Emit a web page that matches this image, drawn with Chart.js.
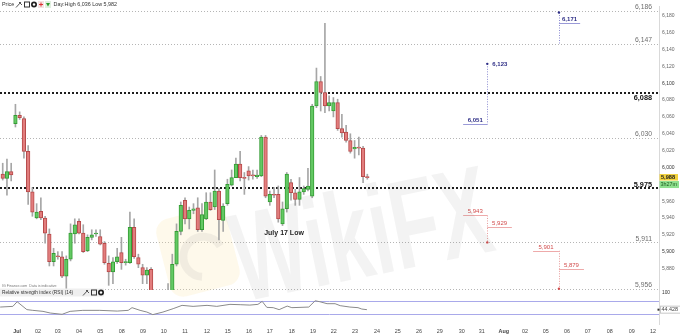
<!DOCTYPE html>
<html><head><meta charset="utf-8">
<script src="https://cdn.jsdelivr.net/npm/chart.js@4.4.1/dist/chart.umd.min.js"></script>
<style>html,body{margin:0;padding:0;background:#fff;overflow:hidden}canvas{display:block}</style>
</head><body>
<canvas id="c" width="680" height="336"></canvas>
<script>
// ---- data ----
const dayLabels = ['Jul','02','03','04','05','08','09','10','11','12','15','16','17','18','19','22','23','24','25','26','29','30','31','Aug','02','05','06','07','08','09','12'];
const dayTickAt = [3.4,8.3,13.0,18.0,23.0,28.1,33.1,38.0,43.0,48.2,53.1,58.1,63.0,68.2,73.2,78.1,83.1,88.3,93.2,98.2,103.1,108.3,113.0,118.2,123.2,128.1,133.1,138.0,143.2,148.4,153.4];
const opens  = [5992,5987,5995,6052,6062,6058,6019,5971,5940,5948,5940,5921,5888,5895,5894,5871,5891,5921,5936,5922,5901,5917,5921,5918,5910,5886,5876,5888,5899,5887,5887,5929,5893,5881,5872,5879,5845,5836,5842,5846,5848,5885,5924,5961,5939,5949,5952,5926,5939,5959,5953,5972,5937,5957,5979,5988,6004,5988,5996,5991,5989,5990,6036,5959,5968,5968,5933,5951,5982,5970,5962,5971,5974,5966,6073,6102,6089,6073,6067,6077,6046,6042,6032,6022,6024,6023,5989];
const highs  = [6005,6010,6005,6075,6066,6060,6026,5976,5957,5964,5942,5927,5904,5900,5900,5895,5933,5939,5939,5932,5920,5926,5926,5926,5912,5895,5893,5904,5917,5891,5947,5939,5897,5885,5881,5881,5851,5848,5850,5862,5897,5933,5959,5964,5953,5957,5964,5957,5970,5970,5997,5975,5957,5986,5997,6011,6019,5994,6001,5997,5997,6038,6038,5972,5976,5978,5959,5994,5986,5974,5988,5978,5999,6075,6118,6108,6171,6085,6083,6081,6063,6050,6040,6032,6036,6025,5992];
const lows   = [5985,5967,5984,6048,6057,6011,5956,5942,5939,5938,5910,5883,5883,5891,5869,5856,5889,5910,5921,5899,5900,5914,5918,5908,5885,5860,5862,5886,5879,5884,5886,5892,5881,5862,5862,5838,5830,5826,5832,5838,5840,5883,5920,5933,5927,5945,5924,5924,5938,5949,5950,5914,5924,5955,5978,5988,5984,5968,5985,5986,5987,5989,5964,5955,5964,5935,5931,5947,5961,5955,5955,5968,5972,5964,6071,6067,6065,6067,6060,6044,6036,6030,6017,6011,6015,5982,5986];
const closes = [5987,5995,5991,6062,6059,6019,5971,5947,5947,5940,5922,5888,5898,5894,5871,5891,5922,5932,5922,5900,5917,5920,5922,5909,5887,5876,5888,5894,5887,5888,5929,5894,5885,5872,5878,5845,5836,5842,5846,5850,5885,5924,5955,5939,5949,5951,5926,5944,5959,5950,5972,5938,5954,5980,5988,6004,5988,5987,5990,5990,5991,6036,5966,5968,5967,5939,5951,5992,5970,5962,5971,5975,5978,6073,6102,6089,6073,6077,6077,6046,6041,6032,6019,6024,6023,5989,5988];
const rsiAt    = [-0.6,2.4,3.4,5.7,7.1,9.5,11.2,14.0,15.9,18.9,22.9,27.0,29.6,30.5,32.4,34.0,35.4,37.8,40.2,42.3,44.9,48.2,50.5,53.6,56.0,58.3,60.2,61.2,62.3,63.8,65.2,67.1,68.2,72.2,73.7,74.8,76.5,78.4,79.6,81.9,83.8,84.7,85.9];
const rsiValue = [52.5,54.6,69,44.5,42.3,39.2,34,30,39.2,42.3,42.3,40,42.3,50.6,42.3,37,29,37,47.5,57.7,54.6,57.7,54.6,60.8,59.8,58.6,60.8,70,51.5,50.6,44.5,55.5,50.6,52.5,72,69,62.9,62.9,56.8,52.5,50.6,46.3,44.4];
const rsiLast = '44.428';
const rsiBands = [70, 30];
const priceTicks = [6180,6160,6140,6120,6100,6080,6060,6040,6020,6000,5960,5940,5920,5900,5880];
const levelValues = [6186,6147,6088,6035,5975,5911,5856];
const levelLabels = ['6,186','6,147','6,088','6,030','5,975','5,911','5,956'];
const lastPrice = 5988, lastPriceLabel = '5,988', candleTimer = '3h27m';
const dayHigh = '6,036', dayLow = '5,982';
// projection targets (candle index / price)
const targetValue = [6051,6171,5943,5929,5901,5879];
const targetLabel = ['6,051','6,171','5,943','5,929','5,901','5,879'];
const targetFrom  = [108.6,131.2,108.6,114.3,125.1,131.2];
const targetTo    = [114.3,136.2,114.3,120.1,131.2,137.1];
const targetUp    = [true,true,false,false,false,false];
const stemAt     = [114.3,131.2,114.3,131.2];
const stemTop    = [6123,6184,5943,5901];
const stemBottom = [6051,6147,5911,5856];
const stemUp     = [true,true,false,false];
const dotAt = [114.3,131.2,114.3,131.2];
const dotValue = [6123,6184,5911,5856];
const dotLabel = ['6,123','','',''];
const lowNote = {at: 66, value: 5922, text: 'July 17 Low'};

// ---- chart ----
const FF = '"Liberation Sans", Arial, sans-serif';
const idx = opens.map((_, i) => i);
const up = idx.map(i => closes[i] >= opens[i]);
const clipPrice = {left: 0, top: 0, right: 0, bottom: -34};
const STRONG = new Set([6088, 5975]);
const fmt = v => Math.round(v).toLocaleString('en-US');

function drawIcons(ctx, x, y) {
  ctx.save();
  ctx.strokeStyle = '#555'; ctx.lineWidth = 1;
  ctx.beginPath(); ctx.moveTo(x, y + 3); ctx.lineTo(x + 5, y - 2.5); ctx.stroke();
  ctx.beginPath(); ctx.moveTo(x + 3, y - 2.5); ctx.lineTo(x + 6, y + 0.5); ctx.stroke();
  ctx.strokeStyle = '#333';
  ctx.strokeRect(x + 8.5, y - 2.5, 5, 5);
  ctx.fillStyle = '#222'; ctx.beginPath(); ctx.arc(x + 18, y, 3, 0, Math.PI * 2); ctx.fill();
  ctx.fillStyle = '#fff'; ctx.beginPath(); ctx.arc(x + 18, y, 1.2, 0, Math.PI * 2); ctx.fill();
  ctx.restore();
}

const overlay = {
  id: 'overlay',
  beforeDatasetsDraw(chart) {
    const {ctx, chartArea: a, scales: {y, yr}} = chart;
    ctx.save();
    levelValues.forEach(v => {
      const strong = STRONG.has(v);
      const py = strong ? Math.round(y.getPixelForValue(v)) : Math.round(y.getPixelForValue(v)) + 0.5;
      ctx.beginPath();
      ctx.setLineDash(strong ? [2, 2] : [1, 2]);
      ctx.lineWidth = strong ? 2 : 1;
      ctx.strokeStyle = strong ? '#1e1e1e' : '#b5b5b5';
      ctx.moveTo(a.left, py); ctx.lineTo(a.right, py); ctx.stroke();
    });
    ctx.setLineDash([]);
    ctx.lineWidth = 1;
    ctx.strokeStyle = '#a9a9ea';
    rsiBands.forEach(b => {
      const py = Math.round(yr.getPixelForValue(b)) + 0.5;
      ctx.beginPath(); ctx.moveTo(a.left, py); ctx.lineTo(a.right, py); ctx.stroke();
    });
    // watermark logo (behind)
    ctx.save();
    ctx.translate(198, 252); ctx.rotate(-0.25);
    ctx.fillStyle = 'rgba(250,228,165,0.22)';
    ctx.beginPath(); ctx.roundRect(-36, -40, 72, 80, 14); ctx.fill();
    ctx.strokeStyle = 'rgba(150,150,150,0.12)'; ctx.lineWidth = 8;
    ctx.beginPath(); ctx.arc(4, 6, 20, Math.PI * 0.6, Math.PI * 1.9); ctx.stroke();
    ctx.restore();
    ctx.restore();
  },
  afterDatasetsDraw(chart) {
    const {ctx, chartArea: a, scales: {x, y, yr}} = chart;
    ctx.save();
    // level labels
    ctx.textAlign = 'right';
    levelValues.forEach((v, i) => {
      const strong = STRONG.has(v);
      const py = y.getPixelForValue(v);
      ctx.font = (strong ? 'bold 7.3px ' : '6.8px ') + FF;
      ctx.fillStyle = strong ? '#111' : '#6e6e6e';
      let base = py - 1.5;
      if (v === 6088) base = py + 6.5;
      if (base < 7) base = 7;
      ctx.fillText(levelLabels[i], a.right - 7, base);
    });
    // projection stems
    ctx.lineWidth = 1;
    stemAt.forEach((s, i) => {
      const px = Math.round(x.getPixelForValue(s)) + 0.5;
      ctx.strokeStyle = stemUp[i] ? '#8c8cd2' : '#e79a9a';
      ctx.setLineDash([1, 1.5]);
      ctx.beginPath();
      ctx.moveTo(px, y.getPixelForValue(stemTop[i]));
      ctx.lineTo(px, y.getPixelForValue(stemBottom[i]));
      ctx.stroke();
    });
    ctx.setLineDash([]);
    targetValue.forEach((v, i) => {
      const py = Math.round(y.getPixelForValue(v)) + 0.5;
      const x1 = x.getPixelForValue(targetFrom[i]), x2 = x.getPixelForValue(targetTo[i]);
      ctx.strokeStyle = targetUp[i] ? '#9a9ad8' : '#eeaaaa';
      ctx.beginPath(); ctx.moveTo(x1, py); ctx.lineTo(x2, py); ctx.stroke();
      ctx.font = (targetUp[i] ? 'bold 6px ' : '6px ') + FF;
      ctx.fillStyle = targetUp[i] ? '#2e2e86' : '#d14b4b';
      ctx.textAlign = 'center';
      ctx.fillText(targetLabel[i], (x1 + x2) / 2, py - 2.5);
    });
    dotAt.forEach((d, i) => {
      const px = x.getPixelForValue(d), py = y.getPixelForValue(dotValue[i]);
      const isUp = dotValue[i] > 6000;
      ctx.fillStyle = isUp ? '#2e2e86' : '#d14b4b';
      ctx.beginPath(); ctx.arc(px, py, 1.2, 0, Math.PI * 2); ctx.fill();
      if (dotLabel[i]) {
        ctx.font = 'bold 6px ' + FF; ctx.textAlign = 'left'; ctx.textBaseline = 'middle';
        ctx.fillText(dotLabel[i], px + 5, py);
        ctx.textBaseline = 'alphabetic';
      }
    });
    // July 17 low
    ctx.font = 'bold 7px ' + FF; ctx.fillStyle = '#222'; ctx.textAlign = 'center';
    ctx.fillText(lowNote.text, x.getPixelForValue(lowNote.at) + 1.5, y.getPixelForValue(lowNote.value) + 2);
    // header
    ctx.textAlign = 'left'; ctx.textBaseline = 'middle';
    ctx.font = '5.4px ' + FF; ctx.fillStyle = '#333';
    ctx.fillText('Price', 2, 4.5);
    drawIcons(ctx, 16, 4.5);
    ctx.fillStyle = '#f3e3e3'; ctx.fillRect(38, 1, 6, 7);
    ctx.strokeStyle = '#d33'; ctx.beginPath(); ctx.moveTo(39, 4.5); ctx.lineTo(43, 4.5); ctx.moveTo(41, 2.5); ctx.lineTo(41, 6.5); ctx.stroke();
    ctx.fillStyle = '#e0f0e0'; ctx.fillRect(45, 1, 6, 7);
    ctx.fillStyle = '#2a9a2a'; ctx.beginPath(); ctx.moveTo(46, 3); ctx.lineTo(50, 3); ctx.lineTo(48, 6.5); ctx.fill();
    ctx.fillStyle = '#333'; ctx.font = '5.4px ' + FF;
    ctx.fillText('Day:High ' + dayHigh + ' Low ' + dayLow, 53.5, 4.5);
    // data source note
    ctx.font = '3.6px ' + FF; ctx.fillStyle = '#777';
    ctx.fillText('IG Finance.com  Data is indicative', 2, 285.5);
    // RSI header
    ctx.fillStyle = '#efefef'; ctx.fillRect(0, 288.5, 104, 8);
    ctx.fillStyle = '#333'; ctx.font = '4.8px ' + FF;
    ctx.fillText('Relative strength index (RSI) (14)', 2, 292.5);
    drawIcons(ctx, 83, 292.5);
    // right side boxes
    const lp = y.getPixelForValue(lastPrice);
    ctx.fillStyle = '#f2d23c'; ctx.fillRect(a.right + 0.5, lp - 3.5, 18.5, 6.5);
    ctx.fillStyle = '#222'; ctx.font = 'bold 5.6px ' + FF;
    ctx.fillText(lastPriceLabel, a.right + 2, lp);
    ctx.fillStyle = '#8ee08e'; ctx.fillRect(a.right + 0.5, lp + 3.5, 19.5, 7);
    ctx.fillStyle = '#1e5a1e'; ctx.font = '5.4px ' + FF;
    ctx.fillText(candleTimer, a.right + 1.5, lp + 7);
    ctx.fillStyle = '#333'; ctx.font = '4.8px ' + FF;
    ctx.fillText('100', a.right + 3, yr.getPixelForValue(100) + 0.5);
    const rp = yr.getPixelForValue(rsiValue[rsiValue.length - 1]);
    ctx.fillStyle = '#fff'; ctx.fillRect(a.right + 1, rp - 3.5, 20, 7);
    ctx.strokeStyle = '#c8c8c8'; ctx.strokeRect(a.right + 1.5, rp - 3.5, 20, 7);
    ctx.fillStyle = '#333'; ctx.fillRect(a.right - 1.5, rp - 1, 2, 2);
    ctx.font = '5.4px ' + FF; ctx.fillStyle = '#444';
    ctx.fillText(rsiLast, a.right + 2.5, rp);
    ctx.restore();
  },
  afterDraw(chart) {
    const {ctx} = chart;
    ctx.save();
    ctx.translate(242, 302);
    ctx.rotate(-0.2);
    ctx.scale(0.56, 0.9);
    ctx.font = 'bold 140px ' + FF;
    ctx.fillStyle = 'rgba(120,120,120,0.085)';
    ctx.fillText('WikiFX', 0, 0);
    ctx.restore();
  }
};

new Chart(document.getElementById('c'), {
  type: 'bar',
  data: {
    datasets: [
      {
        label: 'body',
        data: idx.map(i => ({x: i, y: [opens[i], closes[i]]})),
        backgroundColor: idx.map(i => up[i] ? '#63c963' : '#e27d7d'),
        borderColor: idx.map(i => up[i] ? '#349c34' : '#b64a4a'),
        borderWidth: 1, borderSkipped: false, barThickness: 3.6, grouped: false,
        minBarLength: 1, yAxisID: 'y', clip: clipPrice, order: 1
      },
      {
        label: 'wick',
        data: idx.map(i => ({x: i, y: [lows[i], highs[i]]})),
        backgroundColor: '#a6a6a6', barThickness: 1, grouped: false,
        yAxisID: 'y', clip: clipPrice, order: 2
      },
      {
        type: 'line', label: 'rsi',
        data: rsiAt.map((p, i) => ({x: p, y: rsiValue[i]})),
        yAxisID: 'yr', borderColor: '#8a8a8a', borderWidth: 1,
        pointRadius: 0, tension: 0, order: 0
      }
    ]
  },
  options: {
    responsive: false, animation: false, devicePixelRatio: 1,
    layout: {padding: 0},
    plugins: {legend: {display: false}, tooltip: {enabled: false}},
    scales: {
      x: {
        type: 'linear', min: -0.64, max: 154.8, offset: false, position: 'bottom',
        grid: {display: false, offset: false, drawTicks: false}, border: {display: false},
        ticks: {
          autoSkip: false, maxRotation: 0, minRotation: 0, padding: 4, color: '#444',
          font: c => ({family: FF, size: 5.4, weight: (dayLabels[c.index] === 'Jul' || dayLabels[c.index] === 'Aug') ? 'bold' : 'normal'}),
          callback: (v, i) => dayLabels[i]
        },
        afterBuildTicks: s => { s.ticks = dayTickAt.map(v => ({value: v})); },
        afterFit: s => { s.height = 12; }
      },
      y: {
        type: 'linear', position: 'right', min: 5814.1, max: 6191.7, beginAtZero: false,
        grid: {display: false, drawTicks: false}, border: {display: true, color: '#d9d9d9'},
        ticks: {
          padding: 3, color: c => (c.tick && c.tick.value % 100 === 0) ? '#333' : '#666',
          font: {family: FF, size: 5},
          callback: v => fmt(v)
        },
        afterBuildTicks: s => { s.ticks = priceTicks.map(v => ({value: v})); },
        afterFit: s => { s.width = 21; }
      },
      yr: {type: 'linear', min: 0, max: 985, display: false}
    }
  },
  plugins: [overlay]
});
</script>
</body></html>
